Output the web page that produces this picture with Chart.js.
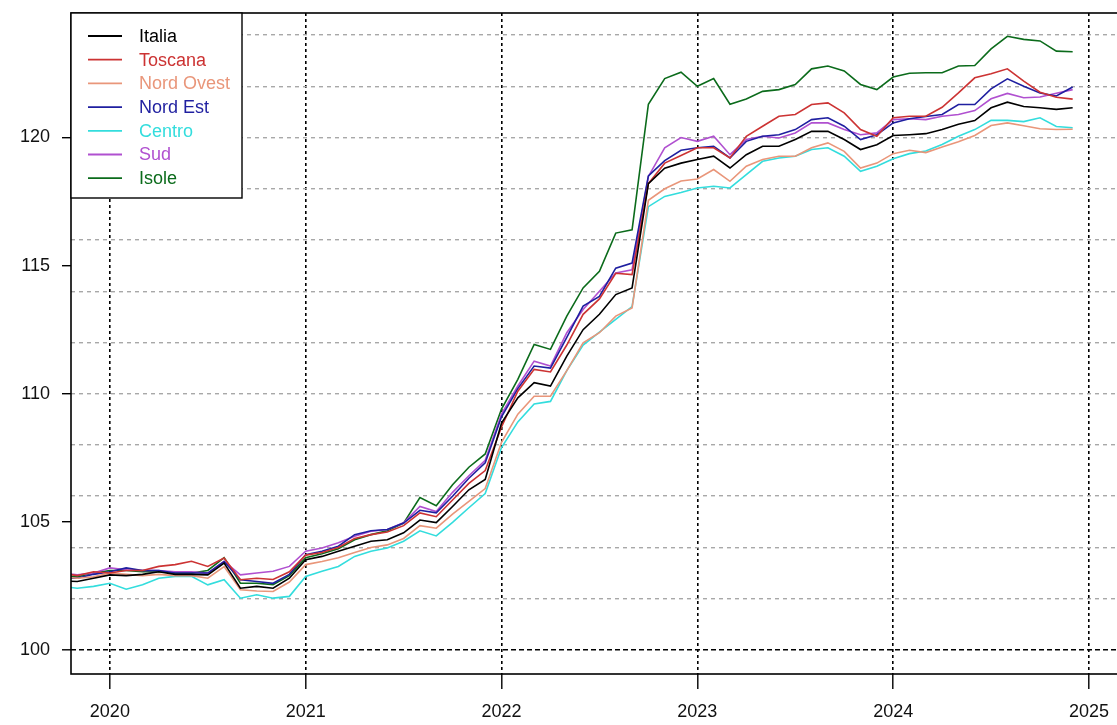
<!DOCTYPE html>
<html>
<head>
<meta charset="utf-8">
<script src="https://cdn.jsdelivr.net/npm/chart.js@4"></script>
<style>
  body { margin: 0; overflow: hidden; background: #fff; }
</style>
</head>
<body>
<canvas id="grafico" width="1160" height="725"></canvas>
<script>
// --- DATI (mensili, ott 2019 - dic 2024) ---
const mesi = [
  '2019-10','2019-11','2019-12',
  '2020-01','2020-02','2020-03','2020-04','2020-05','2020-06','2020-07','2020-08','2020-09','2020-10','2020-11','2020-12',
  '2021-01','2021-02','2021-03','2021-04','2021-05','2021-06','2021-07','2021-08','2021-09','2021-10','2021-11','2021-12',
  '2022-01','2022-02','2022-03','2022-04','2022-05','2022-06','2022-07','2022-08','2022-09','2022-10','2022-11','2022-12',
  '2023-01','2023-02','2023-03','2023-04','2023-05','2023-06','2023-07','2023-08','2023-09','2023-10','2023-11','2023-12',
  '2024-01','2024-02','2024-03','2024-04','2024-05','2024-06','2024-07','2024-08','2024-09','2024-10','2024-11','2024-12'
];

const italia = [
  102.70, 102.67, 102.80,
  102.93, 102.90, 102.95, 103.05, 102.95, 102.95, 102.93, 103.39, 102.41, 102.48, 102.41, 102.80,
  103.52, 103.65, 103.85, 104.05, 104.24, 104.30, 104.57, 105.07, 104.97, 105.60, 106.25, 106.65,
  108.85, 109.84, 110.43, 110.30, 111.47, 112.50, 113.10, 113.87, 114.13, 118.20, 118.80, 119.00,
  119.14, 119.27, 118.81, 119.33, 119.66, 119.66, 119.92, 120.24, 120.24, 119.92, 119.53, 119.72,
  120.08, 120.11, 120.15, 120.31, 120.52, 120.66, 121.16, 121.38, 121.21, 121.16, 121.10, 121.16
];
const toscana = [
  103.00, 102.90, 103.05,
  103.00, 103.10, 103.10, 103.26, 103.33, 103.46, 103.26, 103.59, 102.74, 102.80, 102.75, 103.05,
  103.70, 103.80, 104.00, 104.35, 104.50, 104.60, 104.85, 105.35, 105.20, 105.85, 106.50, 107.00,
  108.70, 110.10, 110.95, 110.85, 111.90, 113.10, 113.70, 114.70, 114.65, 118.20, 119.00, 119.30,
  119.60, 119.60, 119.20, 120.05, 120.44, 120.83, 120.90, 121.29, 121.35, 120.96, 120.31, 120.05,
  120.77, 120.83, 120.83, 121.18, 121.74, 122.33, 122.49, 122.68, 122.20, 121.77, 121.57, 121.50
];
const nordOvest = [
  102.85, 102.80, 102.85,
  103.00, 102.95, 102.90, 102.95, 102.90, 102.90, 102.80, 103.25, 102.35, 102.30, 102.28, 102.65,
  103.33, 103.45, 103.60, 103.80, 104.00, 104.10, 104.35, 104.85, 104.75, 105.30, 105.80, 106.30,
  108.10, 109.20, 109.90, 109.90, 110.90, 111.99, 112.38, 113.03, 113.35, 117.55, 118.00, 118.30,
  118.38, 118.75, 118.29, 118.88, 119.14, 119.27, 119.27, 119.60, 119.79, 119.46, 118.81, 119.00,
  119.37, 119.50, 119.41, 119.63, 119.83, 120.08, 120.47, 120.57, 120.46, 120.34, 120.31, 120.32
];
const nordEst = [
  102.80, 102.80, 102.95,
  103.05, 103.20, 103.10, 103.10, 103.00, 103.00, 103.00, 103.45, 102.74, 102.67, 102.60, 102.95,
  103.72, 103.85, 104.05, 104.50, 104.65, 104.70, 104.95, 105.45, 105.35, 106.00, 106.70, 107.30,
  109.10, 110.20, 111.08, 111.00, 112.20, 113.42, 113.80, 114.90, 115.10, 118.50, 119.10, 119.50,
  119.60, 119.66, 119.20, 119.85, 120.05, 120.11, 120.31, 120.70, 120.77, 120.44, 119.92, 120.11,
  120.57, 120.73, 120.82, 120.90, 121.29, 121.29, 121.90, 122.29, 122.00, 121.74, 121.62, 121.97
];
const centro = [
  102.48, 102.41, 102.48,
  102.60, 102.37, 102.54, 102.80, 102.87, 102.87, 102.54, 102.74, 102.02, 102.15, 102.02, 102.09,
  102.87, 103.07, 103.26, 103.65, 103.85, 103.98, 104.24, 104.65, 104.45, 104.98, 105.55, 106.10,
  107.90, 108.90, 109.60, 109.70, 110.90, 111.90, 112.40, 112.90, 113.40, 117.30, 117.70, 117.85,
  118.03, 118.10, 118.03, 118.55, 119.07, 119.20, 119.27, 119.53, 119.60, 119.27, 118.68, 118.88,
  119.17, 119.37, 119.47, 119.73, 120.05, 120.31, 120.67, 120.67, 120.62, 120.77, 120.43, 120.38
];
const sud = [
  103.00, 102.93, 103.00,
  103.20, 103.13, 103.10, 103.10, 103.05, 103.05, 103.00, 103.46, 102.93, 103.00, 103.07, 103.26,
  103.85, 103.98, 104.18, 104.44, 104.63, 104.70, 104.96, 105.60, 105.40, 106.15, 106.80, 107.40,
  109.20, 110.30, 111.27, 111.08, 112.38, 113.29, 114.00, 114.71, 114.84, 118.48, 119.60, 120.00,
  119.85, 120.05, 119.33, 119.92, 120.05, 119.98, 120.18, 120.57, 120.57, 120.31, 120.11, 120.18,
  120.70, 120.73, 120.70, 120.83, 120.90, 121.05, 121.51, 121.72, 121.55, 121.58, 121.73, 121.87
];
const isole = [
  102.90, 102.85, 103.00,
  103.10, 103.10, 103.05, 103.05, 103.00, 103.00, 103.10, 103.60, 102.60, 102.60, 102.55, 102.90,
  103.60, 103.75, 103.95, 104.30, 104.50, 104.65, 104.95, 105.95, 105.63, 106.45, 107.13, 107.65,
  109.40, 110.56, 111.92, 111.73, 113.03, 114.13, 114.78, 116.27, 116.40, 121.30, 122.30, 122.55,
  122.00, 122.30, 121.30, 121.50, 121.80, 121.87, 122.07, 122.68, 122.79, 122.60, 122.07, 121.87,
  122.36, 122.51, 122.53, 122.53, 122.79, 122.81, 123.46, 123.95, 123.83, 123.77, 123.37, 123.35
];

const serie = ['Italia', 'Toscana', 'Nord Ovest', 'Nord Est', 'Centro', 'Sud', 'Isole'];
const colori = ['#000000', '#CC3333', '#E9967A', '#1F1FA0', '#33DDDD', '#B050D0', '#0B6B1B'];
const valori = [italia, toscana, nordOvest, nordEst, centro, sud, isole];

const anniTick = [2020, 2021, 2022, 2023, 2024, 2025];
const yTick = [100, 102, 104, 105, 106, 108, 110, 112, 114, 115, 116, 118, 120, 122, 124];

// mese 'AAAA-MM' -> anno decimale (come time series di R)
const tempo = mesi.map(m => {
  const [a, mm] = m.split('-').map(Number);
  return a + (mm - 1) / 12;
});

const datasets = serie.map((nome, i) => ({
  label: nome,
  data: valori[i].map((v, j) => ({ x: tempo[j], y: v })),
  borderColor: colori[i],
  borderWidth: 1.6,
  pointRadius: 0,
  tension: 0,
  fill: false
}));

// --- PLUGIN: cornice del grafico e legenda in alto a sinistra ---
const cornice = {
  id: 'cornice',
  afterDatasetsDraw(chart) {
    const { ctx, chartArea: a } = chart;
    ctx.save();
    ctx.strokeStyle = '#000';
    ctx.lineWidth = 1.6;
    ctx.strokeRect(a.left, a.top, a.right - a.left, a.bottom - a.top);
    ctx.restore();
  }
};

const legenda = {
  id: 'legenda',
  afterDraw(chart) {
    const { ctx, chartArea: a } = chart;
    const x0 = a.left, y0 = a.top, w = 171, h = 185;
    ctx.save();
    ctx.fillStyle = '#fff';
    ctx.fillRect(x0, y0, w, h);
    ctx.strokeStyle = '#000';
    ctx.lineWidth = 1.4;
    ctx.strokeRect(x0, y0, w, h);
    ctx.font = '18px "Liberation Sans", Arial, sans-serif';
    ctx.textBaseline = 'middle';
    chart.data.datasets.forEach((ds, i) => {
      const y = y0 + 23 + i * 23.7;
      ctx.strokeStyle = ds.borderColor;
      ctx.lineWidth = 1.8;
      ctx.beginPath();
      ctx.moveTo(x0 + 17, y);
      ctx.lineTo(x0 + 51, y);
      ctx.stroke();
      ctx.fillStyle = ds.borderColor;
      ctx.fillText(ds.label, x0 + 68, y + 1);
    });
    ctx.restore();
  }
};

new Chart(document.getElementById('grafico'), {
  type: 'line',
  data: { datasets },
  plugins: [cornice, legenda],
  options: {
    responsive: false,
    animation: false,
    layout: { padding: { top: 13, right: 20, left: 0, bottom: 0 } },
    plugins: { legend: { display: false }, tooltip: { enabled: false } },
    scales: {
      x: {
        type: 'linear',
        min: 2019.8015,
        max: 2025.2605,
        afterBuildTicks: s => { s.ticks = anniTick.map(v => ({ value: v })); },
        afterFit: s => { s.height = 51; s.paddingLeft = 0; s.paddingRight = 0; },
        grid: {
          color: '#000',
          lineWidth: 1.6,
          drawTicks: true,
          tickLength: 15,
          tickColor: '#000',
          tickWidth: 1.4
        },
        border: { display: false, dash: [3, 3] },
        ticks: {
          padding: 12,
          maxRotation: 0,
          color: '#111',
          font: { family: '"Liberation Sans", Arial, sans-serif', size: 18 },
          callback: v => String(v)
        }
      },
      y: {
        min: 99.06,
        max: 124.86,
        afterBuildTicks: s => { s.ticks = yTick.map(v => ({ value: v })); },
        afterFit: s => { s.width = 71; s.paddingTop = 0; s.paddingBottom = 0; },
        grid: {
          color: c => c.tick.value === 100 ? '#000' : (c.tick.value % 2 === 0 ? '#A8A8A8' : 'rgba(0,0,0,0)'),
          lineWidth: c => c.tick.value === 100 ? 1.6 : 1.4,
          drawTicks: true,
          tickLength: 9,
          tickColor: c => c.tick.value % 5 === 0 ? '#000' : 'rgba(0,0,0,0)',
          tickWidth: 1.4
        },
        border: {
          display: false,
          dash: c => c.tick && c.tick.value === 100 ? [5, 3] : [4, 4]
        },
        ticks: {
          padding: 12,
          color: '#111',
          font: { family: '"Liberation Sans", Arial, sans-serif', size: 18 },
          callback: v => (v % 5 === 0 ? String(v) : '')
        }
      }
    }
  }
});
</script>
</body>
</html>
